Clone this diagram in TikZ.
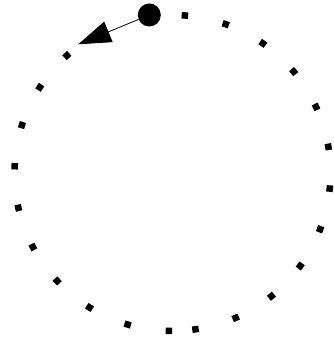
\documentclass[tikz,border=0pt]{standalone}
\usepackage{tikz}
\usetikzlibrary{arrows.meta}

\begin{document}
\begin{tikzpicture}[
  x=1pt,y=1pt,
  dotring/.style={line width=6.5pt,dash pattern=on 6.5pt off 35.4pt},
  bigdot/.style={circle,fill=black,inner sep=0pt,minimum size=23pt},
  loopedge/.style={-{Triangle[length=32.6pt,width=22pt]},line width=0.8pt},
]
\useasboundingbox (0,0) rectangle (333,342);
\coordinate (ctr) at (172.5,169);
% dotted ring, broken at the bottom
\draw[dotring] (ctr) ++(86.68:158pt) arc[start angle=86.68,end angle=-83.2,radius=158pt];
\draw[dotring] (ctr) ++(-90.12:158pt) arc[start angle=-90.12,end angle=-230.4,radius=158pt];
\node[bigdot] (start) at (149.3,327) {};
\coordinate (tip) at (78.3,297.7);
\draw[loopedge] (start) -- (tip);
\end{tikzpicture}
\end{document}
